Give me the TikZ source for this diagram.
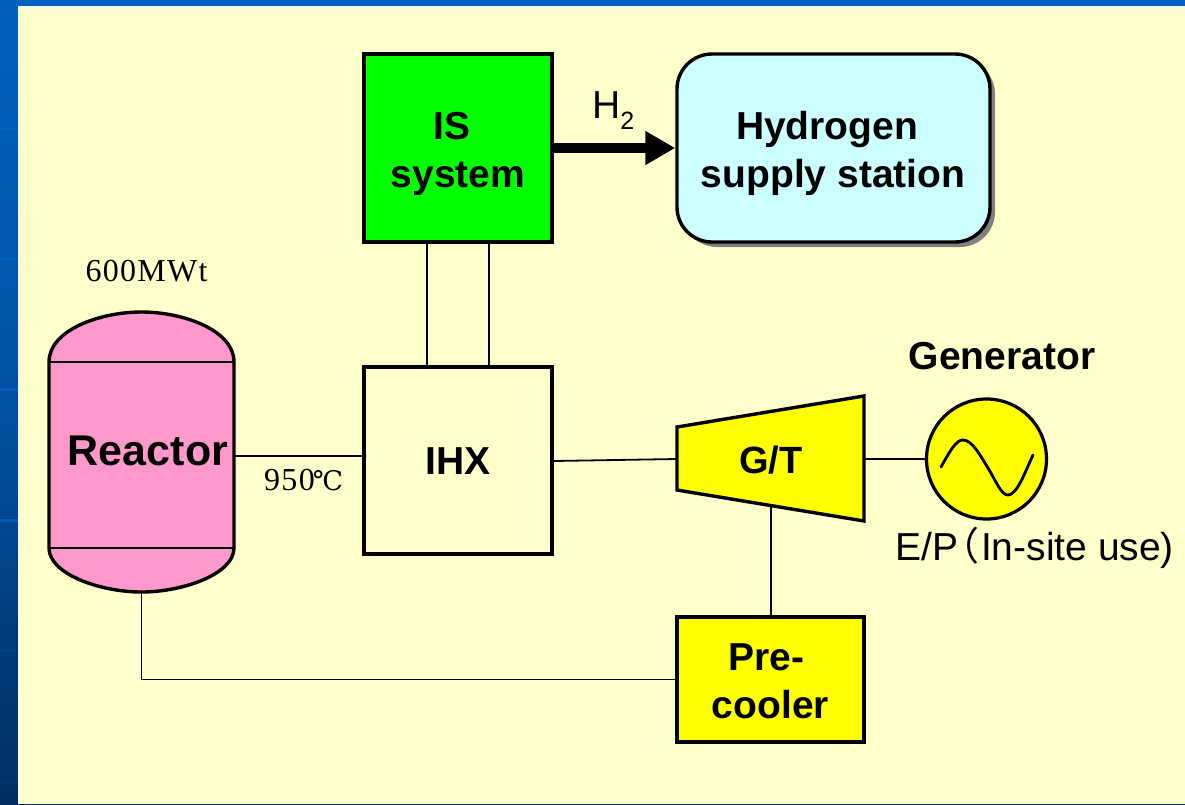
\documentclass[tikz,border=0pt]{standalone}
\usepackage{fontspec}
\setmainfont{Liberation Sans}
\newfontfamily\serifface[LetterSpace=4]{Liberation Serif}
\newfontfamily\degface{DejaVu Serif}
\newfontfamily\cjk[RawFeature=+halt]{Noto Sans CJK JP}
\usetikzlibrary{arrows.meta,calc}
\definecolor{cream}{RGB}{255,255,204}
\definecolor{pinkfill}{RGB}{255,153,204}
\definecolor{skyfill}{RGB}{204,255,255}
\definecolor{bluetop}{RGB}{0,98,190}
\definecolor{bluebot}{RGB}{0,46,98}
\definecolor{bluelite}{RGB}{0,100,205}
\definecolor{shadowgrey}{RGB}{128,128,128}
\definecolor{pureyellow}{RGB}{255,255,0}
\definecolor{puregreen}{RGB}{0,255,0}
\tikzset{
  heavy/.style={draw=black,line width=3.4pt},
  wire/.style={draw=black,line width=1.8pt},
  blockbox/.style={heavy,rectangle,inner sep=0pt},
  plainlabel/.style={inner sep=0pt,align=center},
  blocktext/.style={plainlabel,font=\fontsize{39}{48}\selectfont\bfseries},
}
\begin{document}
\begin{tikzpicture}[x=1pt,y=-1pt]
\useasboundingbox (0,0) rectangle (1185,804);
% slide background
\shade[top color=bluetop,bottom color=bluebot,middle color=bluetop!70!bluebot] (0,0) rectangle (1185,804);
\foreach \yy in {128,258,389,520}{\fill[bluelite,opacity=.7] (0,\yy-1.5) rectangle (18,\yy+1.5);}
\foreach \yy in {650,782}{\fill[bluelite,opacity=.12] (0,\yy-1.5) rectangle (18,\yy+1.5);}
\fill[bluetop] (0,0) rectangle (1185,6);
\fill[white!85!cream] (18,6) rectangle (1185,804);
\fill[cream] (20,8) rectangle (1185,804);
% reactor vessel
\coordinate (rtl) at (49,362);
\coordinate (rtr) at (234,362);
\coordinate (rbl) at (49,548);
\coordinate (rbr) at (234,548);
\path[heavy,fill=pinkfill] (rbl) -- (rtl) .. controls (49,330) and (100,312) .. (141.5,312) .. controls (183,312) and (234,330) .. (rtr) -- (rbr) .. controls (234,574) and (183,592) .. (141.5,592) .. controls (100,592) and (49,574) .. (rbl) -- cycle;
\draw[draw=black,line width=2.6pt] (rtl) -- (rtr);
\draw[draw=black,line width=2.6pt] (rbl) -- (rbr);
\node[plainlabel,font=\fontsize{43}{50}\selectfont\bfseries] (reactor) at (148,451) {Reactor};
\coordinate (rbottom) at (141.5,592);
\coordinate (reast) at (234,456);
% blocks
\node[blockbox,fill=puregreen,minimum width=188pt,minimum height=188pt] (is) at (458,148) {};
\node[blocktext] (istext) at (458,154) {\begin{tabular}{@{}c@{}}IS\kern12pt\\system\end{tabular}};
\node[blockbox,fill=cream,minimum width=188pt,minimum height=187pt] (ihx) at (458,460.5) {};
\node[blocktext] (ihxtext) at (458,461.5) {IHX};
\fill[shadowgrey,rounded corners=35pt] (682,59) rectangle (995,247);
\node[blockbox,fill=skyfill,rounded corners=35pt,minimum width=313pt,minimum height=188pt] (station) at (833.5,148) {};
\node[blocktext] (stationtext) at (833,154) {\begin{tabular}{@{}c@{}}Hydrogen\kern12pt\\supply station\end{tabular}};
\node[blockbox,fill=pureyellow,minimum width=187pt,minimum height=125pt] (pre) at (770.5,679.5) {};
\node[blocktext] (pretext) at (770.5,684.5) {\begin{tabular}{@{}c@{}}Pre-\kern8pt\\cooler\end{tabular}};
% turbine
\coordinate (gta) at (677,427);
\coordinate (gtb) at (864,396);
\coordinate (gtc) at (864,521);
\coordinate (gtd) at (677,490);
\path[heavy,fill=pureyellow] (gta) -- (gtb) -- (gtc) -- (gtd) -- cycle;
\node[plainlabel,font=\fontsize{38}{44}\selectfont\bfseries] (gt) at (771,460) {G/T};
\coordinate (gtw) at (677,459);
\coordinate (gte) at (864,459);
\coordinate (gts) at (771,505.5);
% generator
\node[circle,draw=black,line width=3.2pt,fill=pureyellow,minimum size=120pt,inner sep=0pt] (gen) at (986.5,459) {};
\draw[black,line width=2.8pt,line cap=round] (941,467) .. controls (950,451) and (956,440) .. (963,440) .. controls (972,440) and (980,455) .. (988,468) .. controls (996,481) and (1001,495) .. (1008,495) .. controls (1017,495) and (1025,472) .. (1033,455);
% connectors
\draw[wire] (reast) -- (reast -| ihx.west);
\draw[wire] (ihx.east |- 0,461) -- (gtw);
\draw[wire] (gte) -- (gen.west);
\draw[wire] (gts) -- (gts |- pre.north);
\draw[wire] (rbottom) |- (pre.west);
\draw[wire] (427,242) coordinate (isa) -- (isa |- ihx.north);
\draw[wire] (489,242) coordinate (isb) -- (isb |- ihx.north);
\draw[black,line width=10pt,-{Triangle[length=30pt,width=32pt]}] (is.east) -- (station.west);
% labels
\node[plainlabel,anchor=base west,font=\fontsize{39}{44}\selectfont] (h2) at (592,118) {H\raisebox{-11pt}{\fontsize{25}{28}\selectfont 2}};
\node[plainlabel,font=\fontsize{39}{46}\selectfont\bfseries] (genlabel) at (1002,356) {Generator};
\node[plainlabel,anchor=base west,font=\fontsize{39}{44}\selectfont] (ep) at (895,560) {E/P\hbox to 23pt{\kern2pt{\cjk （}\hss}In-site use)};
\node[plainlabel,anchor=base,font=\fontsize{32}{36}\selectfont\serifface] (mw) at (146.5,281) {600MWt};
\node[plainlabel,anchor=base west,font=\fontsize{32}{36}\selectfont\serifface] (temp) at (264,490) {950\kern-2pt{\degface\fontsize{27}{30}\selectfont ℃}};
\end{tikzpicture}
\end{document}
